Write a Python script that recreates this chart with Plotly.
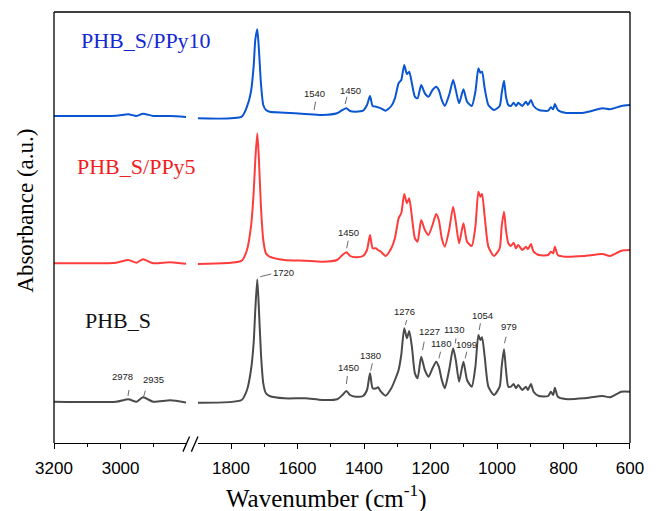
import plotly.graph_objects as go

# ---------------- data ----------------
WN_LEFT = [3200, 3014, 2977, 2952, 2933, 2902, 2851, 2800]
WN_RIGHT = [1900, 1768, 1752, 1740, 1732, 1727, 1721, 1716, 1710, 1703,
            1695, 1684, 1639, 1577, 1526, 1481, 1465, 1453, 1442, 1425,
            1403, 1391, 1382, 1374, 1363, 1358, 1349, 1335, 1318, 1307,
            1296, 1288, 1279, 1271, 1264, 1256, 1247, 1239, 1228, 1217,
            1206, 1194, 1183, 1175, 1166, 1157, 1144, 1132, 1124, 1114,
            1101, 1090, 1076, 1065, 1056, 1050, 1045, 1037, 1026, 1009,
            992, 986, 979, 973, 966, 958, 950, 943, 936, 924,
            913, 907, 898, 890, 874, 846, 838, 831, 826, 817,
            795, 739, 682, 660, 626, 600]

PHB_S_LEFT = [41.3, 41.3, 43.7, 41.3, 45.7, 41.3, 42.7, 40.3]
PHB_S_RIGHT = [40.3, 43, 53, 73, 99.7, 133, 163.7, 133, 89.7, 59.7,
               49.7, 47, 44.7, 44.7, 43, 43.7, 48, 52, 48, 46.3,
               47, 53, 69.7, 54.7, 54.7, 55.7, 51.3, 47.3, 54.7, 63,
               73, 88, 114.7, 104.7, 112, 96.3, 69.7, 64.7, 86.3, 73,
               66.3, 74.7, 81.3, 76.3, 63, 54.7, 73, 94.7, 83, 61.3,
               81.3, 63, 56.3, 76.3, 108, 103, 105.7, 86.3, 56.3, 48,
               56.3, 76.3, 93.7, 73, 56.3, 56.3, 59, 54.7, 58, 53,
               56.3, 53, 59, 51.3, 47, 47, 51.3, 48, 55.3, 46.3,
               44, 44.7, 47, 45.7, 51.3, 51.3]

PPY5_LEFT = [179.7, 180.3, 183, 180.3, 183.7, 179.7, 180.7, 179]
PPY5_RIGHT = [179, 182.3, 193, 216.3, 249.7, 283, 309.7, 283, 236.3, 203,
              189.7, 186.3, 183, 182.3, 181.3, 183, 188, 190.7, 187, 185.7,
              187, 193, 208, 194.7, 194.7, 193, 191.3, 187, 194.7, 204.7,
              224.7, 229.7, 249, 239.7, 244.7, 226.3, 204.7, 201.3, 223, 213,
              208, 218, 229, 223, 204.7, 196.3, 213, 236.3, 221.3, 199.7,
              219.7, 201.3, 197, 216.3, 251.3, 246.3, 249, 226.3, 196.3, 187,
              194.7, 216.3, 231.3, 213, 199.7, 197, 200.3, 194.7, 198, 193,
              196.3, 193.7, 199, 191.3, 188, 188, 191.3, 189.7, 196.3, 188,
              186.3, 187, 189, 187, 192.3, 193]

PPY10_LEFT = [327, 327.3, 328.7, 327, 329.3, 327, 327, 326]
PPY10_RIGHT = [324.7, 326.3, 336.3, 351.3, 376.3, 403, 413.7, 393, 359.7, 338,
               333, 331.3, 330.3, 329, 328, 329.7, 333, 334.7, 332, 331.3,
               332.3, 338, 347, 337, 336.3, 335.7, 334.7, 332.3, 337, 344.7,
               359.7, 363, 378, 369, 371.3, 359.7, 346.3, 344.7, 358, 349.7,
               346.3, 353, 356.3, 353, 343, 337, 348, 363, 353, 339.7,
               353.7, 341.3, 337, 351.3, 374.7, 370.3, 371.3, 354.7, 338, 333,
               337, 349.7, 362.3, 346.3, 338, 337, 340.3, 337, 340.3, 337,
               341.3, 338, 343, 337, 333, 332.3, 335.7, 333.7, 339, 333,
               330.3, 330.3, 334.7, 333.7, 337, 338]

SERIES = ["PHB_S", "PHB_S/PPy5", "PHB_S/PPy10"]
LINE_COLORS = ["#4a4a4a", "#ff3c3c", "#0a55d2"]
TEXT_COLORS = ["#111111", "#f01e1e", "#1428d2"]

# peak labels: (text, axis, label_x, label_y, leader_x0, leader_y0, leader_x1, leader_y1)
PEAKS = [
    ("2978", "x", 2994, 66.3, 2975, 53, 2978, 47),
    ("2935", "x", 2900, 63.7, 2926, 52.3, 2931, 46.3),
    ("1720", "x2", 1642, 171, 1712, 166.3, 1679, 169),
    ("1450", "x2", 1448, 75.7, 1450, 67, 1453, 59),
    ("1380", "x2", 1380, 87.3, 1375, 79.7, 1380, 72.3),
    ("1276", "x2", 1278, 132, 1271.5, 123, 1275.6, 118),
    ("1227", "x2", 1204, 112, 1219, 101.3, 1224, 93),
    ("1130", "x2", 1130, 113.7, 1123.5, 104.7, 1125.3, 99.7),
    ("1180", "x2", 1168, 99.7, 1169.7, 91.3, 1174.7, 84.7),
    ("1099", "x2", 1093, 98.7, 1091, 91.3, 1095.7, 84.7),
    ("1054", "x2", 1044, 127.3, 1050, 119.7, 1053.4, 113),
    ("979", "x2", 965, 117, 972.7, 106.3, 977.5, 99.7),
    ("1450", "x2", 1448, 210.7, 1447.7, 202.3, 1452.2, 194.7),
    ("1540", "x2", 1549, 349.7, 1545.6, 341.3, 1550.1, 333),
    ("1450", "x2", 1442, 352.3, 1451.2, 346.3, 1456.8, 339),
]

LABEL_POS = [(0.050, 0.285), (0.037, 0.641), (0.044, 0.933)]

fig = go.Figure()
lefts = [PHB_S_LEFT, PPY5_LEFT, PPY10_LEFT]
rights = [PHB_S_RIGHT, PPY5_RIGHT, PPY10_RIGHT]
for name, col, yl, yr in zip(SERIES, LINE_COLORS, lefts, rights):
    fig.add_trace(go.Scatter(x=WN_LEFT, y=yl, xaxis="x", yaxis="y", mode="lines",
                             line=dict(color=col, width=2, shape="spline", smoothing=0.6),
                             showlegend=False, name=name, cliponaxis=True))
    fig.add_trace(go.Scatter(x=WN_RIGHT, y=yr, xaxis="x2", yaxis="y", mode="lines",
                             line=dict(color=col, width=2, shape="spline", smoothing=0.6),
                             showlegend=False, name=name, cliponaxis=True))

axis_common = dict(
    showline=True, linecolor="black", linewidth=1.3,
    ticks="outside", ticklen=5, tickwidth=1.3, tickcolor="black",
    showgrid=False, zeroline=False,
    tickfont=dict(family="Liberation Sans, Arial", size=17, color="black"),
    ticklabelstandoff=4,
)

fig.update_layout(
    width=656, height=511,
    margin=dict(l=54, r=17, t=12, b=68),
    paper_bgcolor="white", plot_bgcolor="white",
    xaxis=dict(domain=[0, 0.229], range=[3200, 2804], dtick=200, tick0=0,
               minor=dict(tickvals=[3100, 2900], ticklen=3, tickwidth=1.3, tickcolor="black", ticks="outside"),
               anchor="y", **axis_common),
    xaxis2=dict(domain=[0.2496, 1], range=[1900, 600], dtick=200, tick0=0,
                minor=dict(tickvals=[1700, 1500, 1300, 1100, 900, 700], ticklen=3, tickwidth=1.3,
                           tickcolor="black", ticks="outside"),
                anchor="y", **axis_common),
    yaxis=dict(range=[0, 431], showticklabels=False, ticks="", showgrid=False,
               zeroline=False, showline=False),
)

# frame: top, left, right (bottom is the broken x axis)
for x0, y0, x1, y1 in [(0, 1, 1, 1), (0, 0, 0, 1), (1, 0, 1, 1)]:
    fig.add_shape(type="line", xref="paper", yref="paper", x0=x0, y0=y0, x1=x1, y1=y1,
                  line=dict(color="black", width=1.3))
# axis break marks
for x0, x1 in [(0.2239, 0.2354), (0.2385, 0.2500)]:
    fig.add_shape(type="line", xref="paper", yref="paper", x0=x0, y0=-0.020, x1=x1, y1=0.015,
                  line=dict(color="black", width=1.3))

for txt, ax, lx, ly, x0, y0, x1, y1 in PEAKS:
    fig.add_annotation(text=txt, x=lx, y=ly, xref=ax, yref="y", showarrow=False,
                       font=dict(family="Liberation Sans, Arial", size=9.5, color="#222222"))
    fig.add_shape(type="line", xref=ax, yref="y", x0=x0, y0=y0, x1=x1, y1=y1,
                  line=dict(color="#444444", width=0.8))

for name, col, (px, py) in zip(SERIES, TEXT_COLORS, LABEL_POS):
    fig.add_annotation(text=name, x=px, y=py, xref="paper", yref="paper", showarrow=False,
                       xanchor="left", yanchor="middle",
                       font=dict(family="Liberation Serif, Times New Roman", size=22, color=col))

fig.add_annotation(text="Wavenumber (cm<sup>-1</sup>)", x=0.4735, y=-0.125, xref="paper", yref="paper",
                   showarrow=False, xanchor="center", yanchor="middle",
                   font=dict(family="Liberation Serif, Times New Roman", size=25, color="black"))
fig.add_annotation(text="Absorbance (a.u.)", x=-0.0496, y=0.54, xref="paper", yref="paper",
                   showarrow=False, textangle=-90, xanchor="center", yanchor="middle",
                   font=dict(family="Liberation Serif, Times New Roman", size=23, color="black"))

fig.write_html("out.html")
